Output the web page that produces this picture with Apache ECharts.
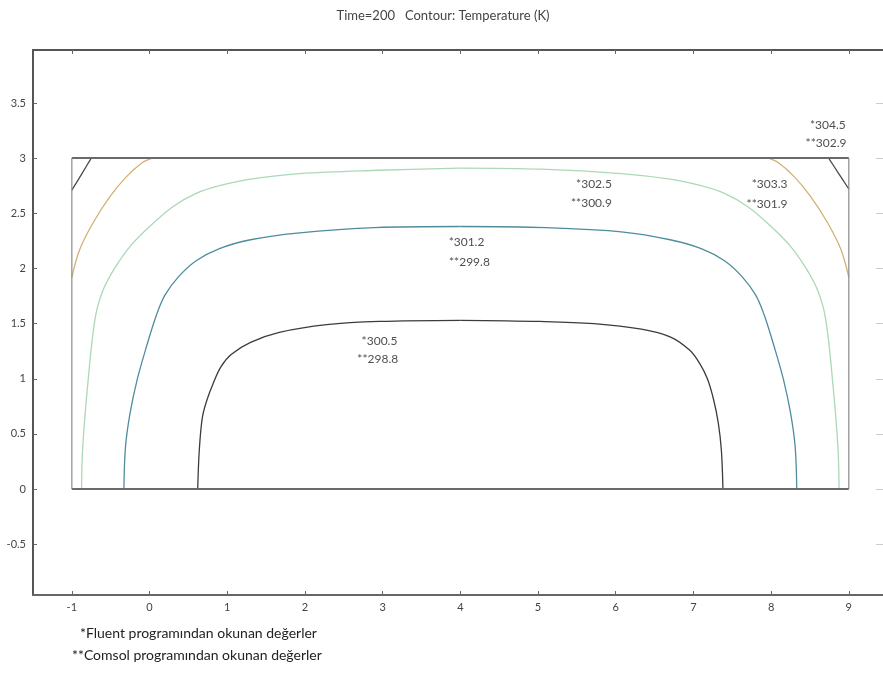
<!DOCTYPE html>
<html>
<head>
<meta charset="utf-8">
<script src="https://cdn.jsdelivr.net/npm/echarts@6/dist/echarts.min.js"></script>
<style>html,body{margin:0;padding:0;background:#fff;}#c{width:883px;height:674px;}</style>
</head>
<body>
<div id="c"></div>
<script>
const titleText = 'Time=200   Contour: Temperature (K)';
const xTicks = [-1, 0, 1, 2, 3, 4, 5, 6, 7, 8, 9];
const yTicks = [-0.5, 0, 0.5, 1, 1.5, 2, 2.5, 3, 3.5];
const domainBoxH = [[-1, 0], [9, 0], null, [-1, 3], [9, 3]];
const domainBoxV = [[-1, 0], [-1, 3], null, [9, 0], [9, 3]];

const c3005L = [[0.62,0],[0.64,0.35],[0.68,0.65],[0.74,0.81],[0.82,0.96],[0.92,1.11],[1.05,1.22],[1.30,1.33],[1.67,1.42],[2.28,1.49],[2.96,1.52],[4.0,1.53]];
const c3005R = [[4.0,1.53],[5.02,1.52],[5.72,1.50],[6.33,1.45],[6.70,1.38],[6.95,1.26],[7.08,1.14],[7.18,1.00],[7.26,0.81],[7.32,0.60],[7.36,0.35],[7.38,0]];
const c3012L = [[-0.33,0],[-0.31,0.38],[-0.25,0.69],[-0.16,0.99],[-0.04,1.29],[0.09,1.58],[0.2,1.76],[0.38,1.93],[0.6,2.07],[0.9,2.18],[1.3,2.26],[1.9,2.32],[2.9,2.37],[4.0,2.38]];
const c3012R = [[4.0,2.38],[5.1,2.37],[6.1,2.33],[6.7,2.26],[7.1,2.18],[7.4,2.07],[7.62,1.93],[7.8,1.76],[7.91,1.58],[8.04,1.29],[8.16,0.99],[8.25,0.69],[8.31,0.38],[8.33,0]];
const c3025L = [[-0.875,0],[-0.86,0.38],[-0.79,0.99],[-0.70,1.55],[-0.60,1.80],[-0.45,2.00],[-0.25,2.20],[0.0,2.38],[0.3,2.56],[0.6,2.68],[0.9,2.75],[1.3,2.81],[1.93,2.86],[2.96,2.89],[4.0,2.91]];
const c3025R = [[4.0,2.91],[5.04,2.90],[6.07,2.86],[6.7,2.81],[7.1,2.75],[7.4,2.68],[7.7,2.56],[8.0,2.38],[8.25,2.20],[8.45,2.00],[8.60,1.80],[8.70,1.55],[8.79,0.99],[8.86,0.38],[8.875,0]];
const c3033L = [[-1,1.92],[-0.90,2.17],[-0.73,2.41],[-0.51,2.65],[-0.30,2.83],[-0.09,2.96],[0.04,3.0]];
const c3033R = [[7.96,3.0],[8.09,2.96],[8.30,2.83],[8.51,2.65],[8.73,2.41],[8.90,2.17],[9.0,1.92]];
const c3045L = [[-1,2.71],[-0.87,2.86],[-0.75,3.0]];
const c3045R = [[8.74,3.0],[8.87,2.86],[9.0,2.72]];

const annX = [8.96, 8.97, 8.21, 8.21, 5.95, 5.95, 4.31, 4.38, 3.19, 3.20];
const annY = [3.30, 3.14, 2.76, 2.58, 2.76, 2.59, 2.24, 2.06, 1.34, 1.18];
const annText = ['*304.5', '**302.9', '*303.3', '**301.9', '*302.5', '**300.9', '*301.2', '**299.8', '*300.5', '**298.8'];
const footnotes = ['*Fluent programından okunan değerler', '**Comsol programından okunan değerler'];

const FONT = 'Lato, "Open Sans", sans-serif';
const chart = echarts.init(document.getElementById('c'), null, {renderer: 'canvas'});

function contour(data, color, w) {
  return {type: 'line', data: data, showSymbol: false, smooth: 0.35, silent: true,
    lineStyle: {color: color, width: w || 1.3}, z: 3, animation: false};
}

const annData = annText.map((t, i) => [annX[i], annY[i], t]);

const option = {
  animation: false,
  backgroundColor: '#fff',
  graphic: [
    {type: 'text', x: 443, y: 9, style: {text: titleText, fill: '#444', font: '13px ' + FONT, textAlign: 'center'}},
    {type: 'text', x: 80, y: 626, style: {text: footnotes[0], fill: '#222', font: '14px ' + FONT}},
    {type: 'text', x: 72, y: 648, style: {text: footnotes[1], fill: '#222', font: '14px ' + FONT}}
  ],
  grid: {left: 33, top: 50, right: 0, height: 545, containLabel: false},
  xAxis: [
    {type: 'value', min: -1.5, max: 9.44, position: 'bottom',
      axisLine: {show: true, onZero: false, lineStyle: {color: '#666', width: 2}},
      axisTick: {show: true, inside: true, length: 4, customValues: xTicks, lineStyle: {color: '#666'}},
      axisLabel: {show: true, customValues: xTicks, color: '#444', fontSize: 11, fontFamily: FONT, margin: 7},
      splitLine: {show: false}},
    {type: 'value', min: -1.5, max: 9.44, position: 'top',
      axisLine: {show: true, onZero: false, lineStyle: {color: '#555', width: 2}},
      axisTick: {show: true, inside: true, length: 4, customValues: xTicks, lineStyle: {color: '#666'}},
      axisLabel: {show: false}, splitLine: {show: false}}
  ],
  yAxis: [
    {type: 'value', min: -0.96, max: 3.98, position: 'left',
      axisLine: {show: true, onZero: false, lineStyle: {color: '#555', width: 2}},
      axisTick: {show: true, inside: true, length: 4, customValues: yTicks, lineStyle: {color: '#666'}},
      axisLabel: {show: true, customValues: yTicks, color: '#444', fontSize: 11, fontFamily: FONT, margin: 7},
      splitLine: {show: false}},
    {type: 'value', min: -0.96, max: 3.98, position: 'right',
      axisLine: {show: false, onZero: false},
      axisTick: {show: true, inside: true, length: 7, customValues: yTicks, lineStyle: {color: '#ccc'}},
      axisLabel: {show: false}, splitLine: {show: false}}
  ],
  series: [
    contour(c3005L, '#3c3c3c'), contour(c3005R, '#3c3c3c'),
    contour(c3012L, '#4f8c9e'), contour(c3012R, '#4f8c9e'),
    contour(c3025L, '#acd8b6'), contour(c3025R, '#acd8b6'),
    contour(c3033L, '#d2b274'), contour(c3033R, '#d2b274'),
    contour(c3045L, '#4a4a4a'), contour(c3045R, '#4a4a4a'),
    {type: 'line', data: domainBoxH, showSymbol: false, silent: true, connectNulls: false,
      lineStyle: {color: '#6a6a6a', width: 2}, z: 4},
    {type: 'line', data: domainBoxV, showSymbol: false, silent: true, connectNulls: false,
      lineStyle: {color: '#8a8a8a', width: 1.2}, z: 4},
    {type: 'scatter', data: annData, symbolSize: 0, silent: true, z: 5,
      label: {show: true, position: 'inside', align: 'right', verticalAlign: 'middle',
        formatter: p => p.data[2], color: '#222', fontSize: 12, fontFamily: FONT}}
  ]
};
chart.setOption(option);
</script>
</body>
</html>
